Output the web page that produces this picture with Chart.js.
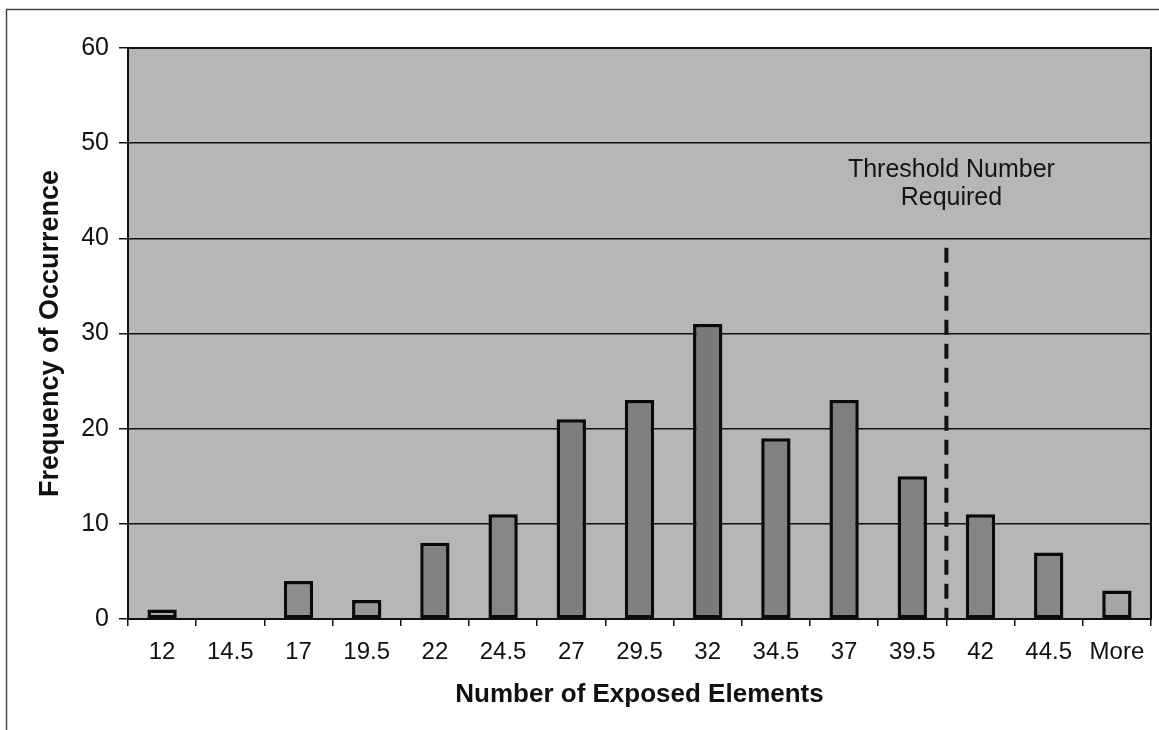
<!DOCTYPE html>
<html>
<head>
<meta charset="utf-8">
<script src="https://cdn.jsdelivr.net/npm/chart.js@4.4.1/dist/chart.umd.min.js"></script>
<style>
  html, body { margin: 0; padding: 0; background: #ffffff; }
  #wrap { position: relative; width: 1159px; height: 730px; }
  canvas { display: block; }
</style>
</head>
<body>
<div id="wrap"><canvas id="chart" width="1159" height="730"></canvas></div>
<script>
// Histogram bins (upper edge of each bin) and the count in each
const binLabels = ['12', '14.5', '17', '19.5', '22', '24.5', '27', '29.5', '32', '34.5', '37', '39.5', '42', '44.5', 'More'];
const frequencies = [1, 0, 4, 2, 8, 11, 21, 23, 31, 19, 23, 15, 11, 7, 3];
const yTicks = [0, 10, 20, 30, 40, 50, 60];

// Threshold marker: sits between bins "39.5" and "42"
const thresholdAfterBin = '39.5';
const thresholdTop = 39;
const thresholdText = ['Threshold Number', 'Required'];
const thresholdTextY = [47.2, 44.2];

// Fill tones for the bars
const barFills = ['#b0b0b0', '#a8a8a8', '#8e8e8e', '#989898', '#828282', '#868686', '#7e7e7e',
                  '#808080', '#7a7a7a', '#828282', '#7f7f7f', '#838383', '#858585', '#888888', '#a6a6a6'];

const FONT = "'Liberation Sans', Arial, Helvetica, sans-serif";

const plotDecor = {
  id: 'plotDecor',
  beforeDraw(chart) {
    const { ctx, chartArea: a } = chart;
    ctx.save();
    ctx.fillStyle = '#b6b6b6';
    ctx.fillRect(a.left, a.top, a.right - a.left, a.bottom - a.top);
    ctx.restore();
  },
  afterDatasetsDraw(chart) {
    const { ctx, chartArea: a, scales: { x, y } } = chart;
    ctx.save();
    // threshold line between two bins
    const i = binLabels.indexOf(thresholdAfterBin);
    const xPos = (x.getPixelForValue(i) + x.getPixelForValue(i + 1)) / 2;
    ctx.strokeStyle = '#111111';
    ctx.lineWidth = 4;
    ctx.setLineDash([15, 9]);
    ctx.beginPath();
    ctx.moveTo(xPos, y.getPixelForValue(thresholdTop));
    ctx.lineTo(xPos, y.getPixelForValue(0));
    ctx.stroke();
    ctx.setLineDash([]);
    // annotation text
    ctx.fillStyle = '#141414';
    ctx.font = '25px ' + FONT;
    ctx.textAlign = 'center';
    ctx.textBaseline = 'middle';
    thresholdText.forEach((t, k) => {
      ctx.fillText(t, xPos + 5, y.getPixelForValue(thresholdTextY[k]));
    });
    // plot border
    ctx.strokeStyle = '#111111';
    ctx.lineWidth = 2;
    ctx.strokeRect(a.left, a.top, a.right - a.left, a.bottom - a.top);
    ctx.restore();
  },
  afterDraw(chart) {
    const { ctx } = chart;
    ctx.save();
    ctx.strokeStyle = '#444444';
    ctx.lineWidth = 1.5;
    ctx.beginPath();
    ctx.moveTo(6.5, 730);
    ctx.lineTo(6.5, 9.5);
    ctx.lineTo(1159, 9.5);
    ctx.stroke();
    ctx.restore();
  }
};

new Chart(document.getElementById('chart'), {
  type: 'bar',
  data: {
    labels: binLabels,
    datasets: [{
      data: frequencies,
      backgroundColor: barFills,
      borderColor: '#0a0a0a',
      borderWidth: 3.5,
      borderSkipped: false,
      categoryPercentage: 1,
      barPercentage: 0.43
    }]
  },
  options: {
    responsive: false,
    animation: false,
    devicePixelRatio: 1,
    layout: { padding: { top: 48, right: 8, left: 0, bottom: 0 } },
    plugins: { legend: { display: false }, tooltip: { enabled: false } },
    scales: {
      x: {
        offset: true,
        grid: { display: true, drawOnChartArea: false, drawTicks: true, tickLength: 7, color: '#111111', lineWidth: 1.5, offset: true },
        border: { display: true, color: '#111111', width: 2 },
        ticks: { color: '#111111', font: { family: FONT, size: 24 }, padding: 12, maxRotation: 0, autoSkip: false },
        title: { display: true, text: 'Number of Exposed Elements', color: '#111111',
                 font: { family: FONT, size: 26, weight: 'bold' }, padding: { top: 0, bottom: 20 } },
        afterFit(s) { s.height = 111; }
      },
      y: {
        min: 0, max: 60,
        afterBuildTicks(s) { s.ticks = yTicks.map(v => ({ value: v })); },
        grid: { color: '#111111', lineWidth: 1.5, tickLength: 9, drawTicks: true },
        border: { display: true, color: '#111111', width: 2 },
        ticks: { color: '#111111', font: { family: FONT, size: 25 }, padding: 10 },
        title: { display: true, text: 'Frequency of Occurrence', color: '#111111',
                 font: { family: FONT, size: 27, weight: 'bold' }, padding: { top: 34, bottom: 0 } },
        afterFit(s) { s.width = 128; }
      }
    }
  },
  plugins: [plotDecor]
});
</script>
</body>
</html>
